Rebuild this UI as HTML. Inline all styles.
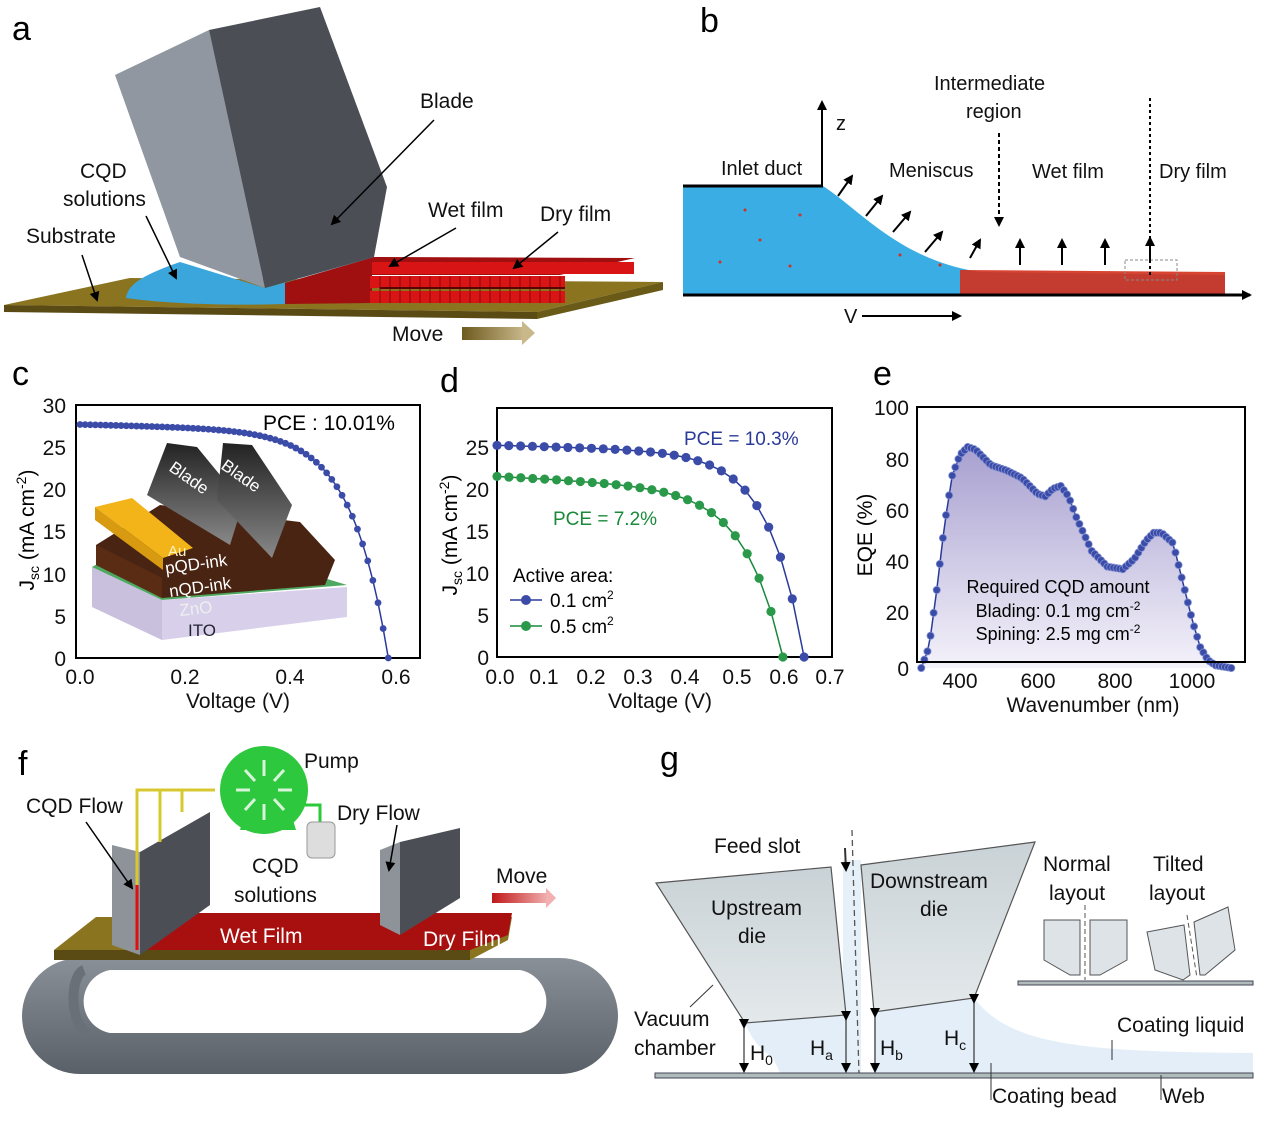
<!DOCTYPE html>
<html><head><meta charset="utf-8"><style>
html,body{margin:0;padding:0;background:#fff;}
svg{display:block;font-family:"Liberation Sans",Arial,sans-serif;}
</style></head><body>
<svg id="s" width="1269" height="1121" viewBox="0 0 1269 1121" xmlns="http://www.w3.org/2000/svg">
<defs>
<marker id="ah" markerWidth="10" markerHeight="10" refX="8" refY="5" orient="auto" markerUnits="userSpaceOnUse"><path d="M0,0 L10,5 L0,10 z" fill="#000"/></marker>
<linearGradient id="mv" x1="0" x2="1"><stop offset="0" stop-color="#6e5a1e"/><stop offset="1" stop-color="#c8b88a"/></linearGradient>
<linearGradient id="mvr" x1="0" x2="1"><stop offset="0" stop-color="#c01818"/><stop offset="1" stop-color="#f2b0b0"/></linearGradient>
<linearGradient id="eqf" x1="0" y1="0" x2="0" y2="1"><stop offset="0" stop-color="#a8a0d0"/><stop offset="1" stop-color="#f4f2fa"/></linearGradient>
<linearGradient id="bl" x1="0" y1="0" x2="0" y2="1"><stop offset="0" stop-color="#222"/><stop offset="1" stop-color="#888"/></linearGradient>
<linearGradient id="belt" x1="0" y1="0" x2="0" y2="1"><stop offset="0" stop-color="#8a9098"/><stop offset="1" stop-color="#5a6068"/></linearGradient>
<linearGradient id="die" x1="0" y1="0" x2="0" y2="1"><stop offset="0" stop-color="#c9d2d6"/><stop offset="1" stop-color="#e4e9eb"/></linearGradient>
</defs>
<g font-size="34"><text x="12" y="40">a</text><text x="700" y="32">b</text><text x="12" y="385">c</text><text x="440" y="392">d</text><text x="873" y="385">e</text><text x="18" y="775">f</text><text x="660" y="770">g</text></g>

<!-- PANEL A -->
<polygon points="4,305 130,278 663,282 537,312" fill="#8a7420"/>
<polygon points="4,305 537,312 537,319 4,312" fill="#5a4a14"/>
<polygon points="537,312 663,282 663,290 537,319" fill="#6a5a18"/>
<path d="M126,298 C128,285 140,276 180,262 L265,288 L375,257 L285,262 L285,304 C220,306 160,303 126,298 Z" fill="#3aa6dc"/>
<polygon points="285,283 374,257 635,258 560,275 372,275 372,303 285,304" fill="#a01010"/>
<g fill="#d81414">
<rect x="372" y="262" width="262" height="12"/><rect x="370" y="276" width="195" height="12"/><rect x="370" y="291" width="195" height="12"/>
</g>
<g stroke="#8a0a0a" stroke-width="1">
<path d="M380,276V303M390,276V303M400,276V303M410,276V303M420,276V303M430,276V303M440,276V303M450,276V303M460,276V303M470,276V303M480,276V303M490,276V303M500,276V303M510,276V303M520,276V303M530,276V303M540,276V303M550,276V303M560,276V303"/>
<path d="M380,288H565" stroke="#5a0505" stroke-width="2"/>
</g>
<polygon points="115,75 209,30 265,288 180,257" fill="#9097a0"/>
<polygon points="209,30 320,7 387,187 374,257 265,288" fill="#4b4f55"/>
<g font-size="21" fill="#111">
<text x="420" y="108">Blade</text><text x="80" y="178">CQD</text><text x="63" y="206">solutions</text>
<text x="26" y="243">Substrate</text><text x="428" y="217">Wet film</text><text x="540" y="221">Dry film</text>
<text x="392" y="341">Move</text></g>
<g stroke="#000" stroke-width="1.5" marker-end="url(#ah)">
<line x1="434" y1="120" x2="332" y2="224"/><line x1="146" y1="216" x2="176" y2="278"/>
<line x1="82" y1="255" x2="97" y2="300"/><line x1="456" y1="228" x2="390" y2="266"/><line x1="558" y1="232" x2="514" y2="268"/></g>
<rect x="462" y="327" width="62" height="13" fill="url(#mv)"/><polygon points="522,321 535,333 522,345" fill="#c8b88a"/>

<!-- PANEL B -->
<path d="M683,186 L823,186 C860,210 900,260 980,272 L1225,275 L1225,295 L683,295 Z" fill="#3aaee4"/>
<path d="M960,270 L1225,272 L1225,295 L960,295 Z" fill="#d4301c" opacity="0.9"/>
<g fill="#d03020"><circle cx="745" cy="210" r="1.5"/><circle cx="790" cy="266" r="1.5"/><circle cx="760" cy="240" r="1.5"/><circle cx="720" cy="262" r="1.5"/><circle cx="800" cy="215" r="1.5"/><circle cx="900" cy="255" r="1.5"/><circle cx="940" cy="265" r="1.5"/></g>
<line x1="683" y1="186" x2="823" y2="186" stroke="#000" stroke-width="3"/>
<line x1="683" y1="295" x2="1250" y2="295" stroke="#000" stroke-width="3" marker-end="url(#ah)"/>
<line x1="822" y1="186" x2="822" y2="102" stroke="#000" stroke-width="2" marker-end="url(#ah)"/>
<rect x="1125" y="260" width="52" height="20" fill="none" stroke="#888" stroke-dasharray="3,2"/>
<line x1="999" y1="133" x2="999" y2="225" stroke="#000" stroke-width="2" stroke-dasharray="4,3" marker-end="url(#ah)"/>
<line x1="1150" y1="98" x2="1150" y2="278" stroke="#000" stroke-width="2" stroke-dasharray="3,3"/>
<g stroke="#000" stroke-width="2" marker-end="url(#ah)">
<line x1="838" y1="196" x2="852" y2="176"/><line x1="866" y1="216" x2="882" y2="196"/><line x1="893" y1="232" x2="910" y2="212"/><line x1="925" y1="252" x2="942" y2="232"/><line x1="970" y1="258" x2="980" y2="240"/>
<line x1="1020" y1="265" x2="1020" y2="240"/><line x1="1062" y1="265" x2="1062" y2="240"/><line x1="1105" y1="265" x2="1105" y2="240"/><line x1="1150" y1="262" x2="1150" y2="238"/>
<line x1="862" y1="316" x2="960" y2="316"/></g>
<g font-size="20" fill="#111"><text x="836" y="130">z</text><text x="934" y="90">Intermediate</text><text x="966" y="118">region</text>
<text x="721" y="175">Inlet duct</text><text x="889" y="177">Meniscus</text><text x="1032" y="178">Wet film</text><text x="1159" y="178">Dry film</text><text x="844" y="323">V</text></g>

<!-- PANEL C -->
<rect x="76" y="405" width="344" height="253" fill="none" stroke="#000" stroke-width="2"/>
<g font-size="21" fill="#111" text-anchor="end">
<text x="66" y="413">30</text><text x="66" y="455">25</text><text x="66" y="497">20</text><text x="66" y="539">15</text><text x="66" y="582">10</text><text x="66" y="624">5</text><text x="66" y="666">0</text></g>
<g font-size="21" text-anchor="middle" fill="#111"><text x="80" y="684">0.0</text><text x="185" y="684">0.2</text><text x="290" y="684">0.4</text><text x="396" y="684">0.6</text><text x="238" y="708">Voltage (V)</text></g>
<text transform="translate(34,530) rotate(-90)" font-size="21" text-anchor="middle">J<tspan font-size="14" dy="5">sc</tspan><tspan dy="-5"> (mA cm</tspan><tspan font-size="14" dy="-8">-2</tspan><tspan dy="8">)</tspan></text>
<text x="263" y="430" font-size="21">PCE : 10.01%</text>
<polygon points="92,567 162,600 162,640 92,607" fill="#c8c0dc"/>
<polygon points="162,600 347,587 347,617 162,640" fill="#d8d0ea"/>
<polygon points="92,567 160,528 347,585 162,600" fill="#4fa860"/>
<polygon points="96,545 160,505 300,522 335,560 325,585 162,598 96,565" fill="#4a2412"/>
<polygon points="96,545 162,578 162,598 96,565" fill="#5a2c14"/>
<polygon points="95,507 132,498 193,548 163,558" fill="#f2b418"/>
<polygon points="95,507 163,558 163,570 95,520" fill="#d89a10"/>
<polygon points="147,495 167,443 197,447 243,503 230,545" fill="url(#bl)"/>
<polygon points="217,500 223,443 252,445 292,505 272,558" fill="url(#bl)"/>
<g fill="#fff" font-size="17"><text transform="translate(168,470) rotate(35)">Blade</text><text transform="translate(220,468) rotate(35)">Blade</text>
<text x="168" y="556" font-size="15" fill="#fff5c0">Au</text><text x="166" y="574" transform="rotate(-8,166,574)">pQD-ink</text><text x="170" y="597" transform="rotate(-8,170,597)">nQD-ink</text><text x="180" y="616" fill="#eee" transform="rotate(-6,180,616)">ZnO</text><text x="188" y="636" fill="#223">ITO</text></g>
<g id="cc"></g>

<!-- PANEL D -->
<rect x="497" y="408" width="335" height="249" fill="none" stroke="#000" stroke-width="2"/>
<g font-size="21" fill="#111" text-anchor="end">
<text x="489" y="455">25</text><text x="489" y="497">20</text><text x="489" y="539">15</text><text x="489" y="581">10</text><text x="489" y="623">5</text><text x="489" y="665">0</text></g>
<g font-size="21" text-anchor="middle" fill="#111"><text x="500" y="684">0.0</text><text x="544" y="684">0.1</text><text x="591" y="684">0.2</text><text x="638" y="684">0.3</text><text x="685" y="684">0.4</text><text x="737" y="684">0.5</text><text x="784" y="684">0.6</text><text x="830" y="684">0.7</text><text x="660" y="708">Voltage (V)</text></g>
<text transform="translate(457,535) rotate(-90)" font-size="21" text-anchor="middle">J<tspan font-size="14" dy="5">sc</tspan><tspan dy="-5"> (mA cm</tspan><tspan font-size="14" dy="-8">-2</tspan><tspan dy="8">)</tspan></text>
<text x="684" y="445" font-size="19" fill="#2a3a9a">PCE = 10.3%</text>
<text x="553" y="525" font-size="19" fill="#1a8a3a">PCE = 7.2%</text>
<text x="513" y="582" font-size="19">Active area:</text>
<line x1="510" y1="600" x2="542" y2="600" stroke="#2a3a9a" stroke-width="1.5"/><circle cx="526" cy="600" r="5" fill="#3b4ba8"/>
<text x="550" y="607" font-size="19">0.1 cm<tspan font-size="12" dy="-8">2</tspan></text>
<line x1="510" y1="626" x2="542" y2="626" stroke="#1a8a3a" stroke-width="1.5"/><circle cx="526" cy="626" r="5" fill="#2a9a4a"/>
<text x="550" y="633" font-size="19">0.5 cm<tspan font-size="12" dy="-8">2</tspan></text>
<g id="dd"></g>

<!-- PANEL E -->
<g id="ee"></g>
<rect x="917" y="407" width="328" height="255" fill="none" stroke="#000" stroke-width="2"/>
<g font-size="21" fill="#111" text-anchor="end">
<text x="909" y="415">100</text><text x="909" y="467">80</text><text x="909" y="518">60</text><text x="909" y="569">40</text><text x="909" y="620">20</text><text x="909" y="676">0</text></g>
<g font-size="21" text-anchor="middle" fill="#111"><text x="960" y="688">400</text><text x="1038" y="688">600</text><text x="1115" y="688">800</text><text x="1192" y="688">1000</text><text x="1093" y="712">Wavenumber (nm)</text></g>
<text transform="translate(872,535) rotate(-90)" font-size="21" text-anchor="middle">EQE (%)</text>
<g font-size="18" text-anchor="middle"><text x="1058" y="593">Required CQD amount</text><text x="1058" y="617">Blading: 0.1 mg cm<tspan font-size="12" dy="-7">-2</tspan></text><text x="1058" y="640">Spining: 2.5 mg cm<tspan font-size="12" dy="-7">-2</tspan></text></g>

<!-- PANEL F -->
<path d="M80,958 H560 A58,58 0 0 1 560,1074 H80 A58,58 0 0 1 80,958 Z" fill="url(#belt)"/>
<path d="M110,970 H520 A32,32 0 0 1 520,1033 H110 A32,32 0 0 1 110,970 Z" fill="#fff"/>
<path d="M84,970 C70,975 68,1025 90,1035" fill="none" stroke="#6a7078" stroke-width="10"/>
<polygon points="54,950 96,917 512,917 508,940 470,960 54,960" fill="#8a7420"/>
<polygon points="54,950 470,950 470,960 54,960" fill="#5a4a14"/>
<polygon points="140,947 150,913 512,913 508,935 470,950 140,950" fill="#a81010"/>
<polygon points="112,845 140,852 140,955 112,945" fill="#8d9399"/>
<polygon points="140,852 210,812 210,905 140,955" fill="#4b4f55"/>
<polygon points="380,850 400,842 400,935 380,925" fill="#8d9399"/>
<polygon points="400,842 460,828 460,898 400,935" fill="#4b4f55"/>
<path d="M137,948 V790 H160 M160,790 V842 M165,790 H182 V812" fill="none" stroke="#d8c830" stroke-width="3"/>
<path d="M137,790 H215" stroke="#d8c830" stroke-width="3"/>
<line x1="137" y1="885" x2="137" y2="950" stroke="#e01010" stroke-width="3"/>
<path d="M240,830 L296,830 L290,810 L246,810 Z" fill="#2ac83a"/>
<circle cx="264" cy="790" r="44" fill="#2ec83e"/>
<g stroke="#fff" stroke-width="3" opacity="0.8"><path d="M264,760V776M264,804V820M236,790H250M278,790H292M245,770L255,781M274,799L284,810M245,810L255,799M274,781L284,770"/></g>
<path d="M305,805 H320 V822" fill="none" stroke="#2ac83a" stroke-width="3"/>
<rect x="307" y="822" width="28" height="36" rx="5" fill="#ddd" stroke="#999"/>
<g font-size="21" fill="#111"><text x="304" y="768">Pump</text><text x="26" y="813">CQD Flow</text><text x="337" y="820">Dry Flow</text>
<text x="252" y="873">CQD</text><text x="234" y="902">solutions</text><text x="496" y="883">Move</text></g>
<g font-size="21" fill="#fff"><text x="220" y="943">Wet Film</text><text x="423" y="946">Dry Film</text></g>
<g stroke="#000" stroke-width="1.5" marker-end="url(#ah)"><line x1="86" y1="822" x2="132" y2="888"/><line x1="397" y1="825" x2="389" y2="870"/></g>
<rect x="492" y="893" width="56" height="10" fill="url(#mvr)"/><polygon points="546,888 556,898 546,908" fill="#f2b0b0"/>

<!-- PANEL G -->
<path d="M745,1023 C760,1060 790,1072 840,1072 L846,1015 Z" fill="#e3eef8"/>
<rect x="843" y="860" width="18" height="215" fill="#e6f0f8"/>
<path d="M874,1012 L974,998 C1010,1045 1080,1052 1253,1053 L1253,1073 L874,1073 Z" fill="#e3eef8"/>
<path d="M760,1030 L850,1030 L850,1073 L780,1073 Z" fill="#e3eef8"/>
<polygon points="656,883 831,867 846,1015 745,1023" fill="url(#die)" stroke="#555" stroke-width="1.2"/>
<polygon points="861,865 1035,842 974,998 874,1012" fill="url(#die)" stroke="#555" stroke-width="1.2"/>
<line x1="852" y1="830" x2="859" y2="1075" stroke="#555" stroke-width="1.3" stroke-dasharray="6,4"/>
<line x1="845" y1="848" x2="846" y2="870" stroke="#333" stroke-width="2" marker-end="url(#ah)"/>
<rect x="655" y="1073" width="598" height="5" fill="#b0bcbc" stroke="#445" stroke-width="1"/>
<g stroke="#333" stroke-width="1.2" marker-end="url(#ah)" marker-start="url(#ah)">
<line x1="744" y1="1027" x2="744" y2="1071"/><line x1="846" y1="1019" x2="846" y2="1071"/><line x1="875" y1="1016" x2="875" y2="1071"/><line x1="974" y1="1002" x2="974" y2="1071"/></g>
<g font-size="21" fill="#111">
<text x="714" y="853">Feed slot</text><text x="1043" y="871">Normal</text><text x="1049" y="900">layout</text><text x="1153" y="871">Tilted</text><text x="1149" y="900">layout</text>
<text x="711" y="915">Upstream</text><text x="738" y="943">die</text><text x="870" y="888">Downstream</text><text x="920" y="916">die</text>
<text x="634" y="1026">Vacuum</text><text x="634" y="1055">chamber</text>
<text x="750" y="1060">H<tspan font-size="14" dy="5">0</tspan></text><text x="810" y="1055">H<tspan font-size="14" dy="5">a</tspan></text><text x="880" y="1055">H<tspan font-size="14" dy="5">b</tspan></text><text x="944" y="1045">H<tspan font-size="14" dy="5">c</tspan></text>
<text x="1117" y="1032">Coating liquid</text><text x="992" y="1103">Coating bead</text><text x="1162" y="1103">Web</text></g>
<g stroke="#333" stroke-width="1"><line x1="690" y1="1007" x2="713" y2="985"/><line x1="1112" y1="1040" x2="1112" y2="1060"/><line x1="991" y1="1063" x2="991" y2="1100"/><line x1="1161" y1="1075" x2="1161" y2="1100"/></g>
<rect x="1018" y="981" width="235" height="4" fill="#b0bcbc" stroke="#445" stroke-width="1"/>
<polygon points="1044,920 1080,920 1080,975 1070,975 1044,960" fill="#dde3e6" stroke="#555"/>
<polygon points="1090,920 1127,920 1127,960 1100,975 1090,975" fill="#dde3e6" stroke="#555"/>
<line x1="1085" y1="905" x2="1085" y2="980" stroke="#555" stroke-dasharray="5,3"/>
<polygon points="1147,932 1184,925 1190,975 1183,980 1155,970" fill="#dde3e6" stroke="#555"/>
<polygon points="1194,922 1228,907 1235,950 1205,975 1200,975" fill="#dde3e6" stroke="#555"/>
<line x1="1187" y1="915" x2="1197" y2="978" stroke="#555" stroke-dasharray="5,3"/>
</svg>
<script>
(function(){
var NS="http://www.w3.org/2000/svg";
function el(p,t,a){var e=document.createElementNS(NS,t);for(var k in a)e.setAttribute(k,a[k]);p.appendChild(e);return e;}
function jv(V,Jsc,Voc,a,s){var k=(Jsc-s*Voc)/(Math.exp(Voc/a)-1);return Jsc-s*V-k*(Math.exp(V/a)-1);}
function curve(g,Jsc,Voc,a,s,mx,my,n,col,fc,r){var pts=[];for(var i=0;i<=n;i++){var V=Voc*i/n;var J=Math.max(0,jv(V,Jsc,Voc,a,s));pts.push([mx(V),my(J)]);}
el(g,"polyline",{points:pts.map(function(p){return p.join(",")}).join(" "),fill:"none",stroke:col,"stroke-width":1.5});
pts.forEach(function(p){el(g,"circle",{cx:p[0],cy:p[1],r:r,fill:fc});});}
curve(document.getElementById("cc"),27.7,0.585,0.07,1.5,function(V){return 80+V*527},function(J){return 658-J*8.43},60,"#2a3a9a","#3b4ba8",3.4);
var dd=document.getElementById("dd");
curve(dd,25.2,0.652,0.075,1.5,function(V){return 497+V*471},function(J){return 657-J*8.4},26,"#2a3a9a","#3b4ba8",4.6);
curve(dd,21.5,0.607,0.08,3,function(V){return 497+V*471},function(J){return 657-J*8.4},24,"#1a8a3a","#2a9a4a",4.6);
var d=[[300,0],[320,8],[340,30],[360,55],[380,74],[400,82],[420,85],[440,84],[480,78],[520,76],[560,73],[600,67],[620,66],[640,69],[660,70],[680,66],[700,58],[740,45],[780,39],[820,38],[850,42],[880,49],[900,52],[920,52],[950,48],[980,30],[1000,18],[1020,8],[1040,3],[1060,1],[1100,0]];
function f(l){for(var i=0;i<d.length-1;i++){if(l<=d[i+1][0]){var t=(l-d[i][0])/(d[i+1][0]-d[i][0]);return d[i][1]+t*(d[i+1][1]-d[i][1]);}}return 0;}
var ee=document.getElementById("ee"),pts=[];
for(var l=300;l<=1100;l+=8){pts.push([960+(l-400)*0.3875,668-f(l)*2.6]);}
var ps=pts.map(function(p){return p.join(",")}).join(" ");
el(ee,"polygon",{points:ps+" "+pts[pts.length-1][0]+",668 "+pts[0][0]+",668",fill:"url(#eqf)"});
el(ee,"polyline",{points:ps,fill:"none",stroke:"#2a3a9a","stroke-width":1.5});
pts.forEach(function(p){el(ee,"circle",{cx:p[0],cy:p[1],r:3.6,fill:"#3b4ba8",stroke:"#8090d0","stroke-width":0.8});});
})();
</script>
</body></html>
